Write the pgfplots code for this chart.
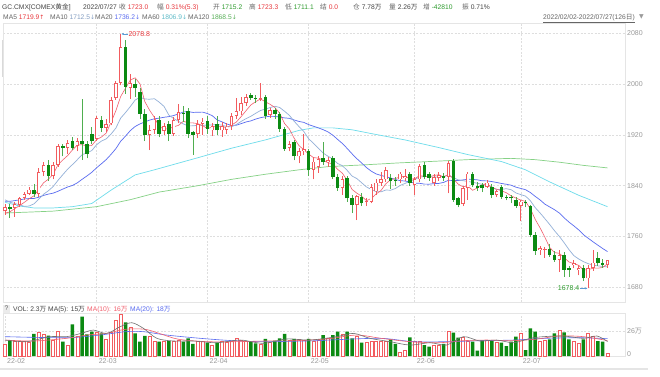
\documentclass[border=0pt]{standalone}
\usepackage{pgfplots}
\pgfplotsset{compat=1.18}
\usepackage{pgfplotstable}
\usetikzlibrary{arrows.meta}
\usepackage{fontspec}
\setmainfont{Liberation Sans}
\newfontfamily\cjk{Noto Sans CJK SC}
\newfontfamily\dv{DejaVu Sans}
\definecolor{cup}{HTML}{F25C5F}
\definecolor{cdn}{HTML}{0B8A12}
\definecolor{cdnw}{HTML}{4FAE4F}
\definecolor{gridc}{HTML}{DEDEDE}
\definecolor{tickc}{HTML}{9A9A9A}
\definecolor{txtc}{HTML}{444444}
\definecolor{labc}{HTML}{666666}
\definecolor{redt}{HTML}{E8383D}
\definecolor{greent}{HTML}{2E9B2E}
\definecolor{ma5c}{HTML}{F2606E}
\definecolor{ma10c}{HTML}{93B0D8}
\definecolor{ma20c}{HTML}{5A6CF0}
\definecolor{ma60c}{HTML}{6EDCEB}
\definecolor{ma120c}{HTML}{86D186}
\definecolor{vma5c}{HTML}{707070}
\definecolor{vma10c}{HTML}{F2606E}
\definecolor{vma20c}{HTML}{5A6CF0}
\definecolor{annoc}{HTML}{5B9BD5}
\newcommand\tf{\fontsize{7}{8.4}\selectfont}
\newcommand\hf{\fontsize{6.7}{8}\selectfont}

\pgfplotstableread{
i O H L C V
0 1800 1811 1794 1806 12.5
2 1805 1814 1791 1811 14.9
3 1810 1823 1807 1821 14.9
4 1821 1830 1818 1827 14.9
5 1827 1838 1825 1834 13.8
7 1827 1868 1822 1862 24.2
8 1862 1878 1855 1873 22.9
10 1855 1878 1850 1873 16.6
11 1873 1906 1870 1902 26.0
13 1900 1912 1890 1907 11.4
15 1902 1915 1894 1910 20.1
19 1914 1950 1910 1946 24.2
21 1931 1945 1925 1937 17.4
22 1938 1980 1935 1975 24.6
23 1978 2005 1975 2001 37.4
24 2002 2078.8 1998 2058 43.4
26 1994 2016 1977 2001 29.8
30 1920 1935 1896 1928 20.1
31 1928 1950 1922 1944 15.6
33 1926 1938 1920 1934 14.9
35 1922 1948 1918 1943 15.6
36 1943 1968 1938 1956 16.6
40 1921 1943 1915 1937 14.9
41 1937 1947 1920 1941 14.9
43 1927 1938 1918 1934 11.4
45 1927 1940 1917 1934 14.9
46 1928 1938 1922 1933 13.8
47 1934 1955 1928 1950 14.9
48 1950 1978 1945 1957 18.4
49 1957 1980 1952 1970 16.6
50 1970 1985 1966 1980 14.9
53 1976 2002 1973 1978 12.5
55 1951 1963 1947 1959 13.8
59 1899 1910 1894 1906 16.6
61 1886 1900 1875 1895 17.4
62 1895 1921 1888 1898 16.6
64 1865 1885 1850 1878 15.6
65 1869 1886 1860 1882 16.6
67 1877 1885 1870 1880 18.4
70 1836 1856 1826 1851 22.9
73 1810 1826 1786 1824 20.1
75 1814 1820 1808 1816 13.8
76 1815 1842 1812 1838 15.6
77 1831 1850 1826 1845 14.9
78 1844 1862 1840 1851 14.9
79 1850 1870 1846 1865 14.9
82 1850 1862 1845 1859 3.4
83 1852 1867 1848 1855 6.2
85 1841 1854 1826 1850 15.6
86 1850 1874 1846 1871 14.9
89 1844 1858 1840 1853 11.4
90 1852 1861 1848 1857 11.4
92 1854 1879 1828 1876 26.0
95 1811 1840 1808 1836 19.0
96 1836 1862 1818 1859 15.6
100 1838 1849 1836 1845 16.6
102 1825 1834 1822 1831 14.2
107 1808 1818 1784 1815 23.5
111 1739 1745 1731 1742 14.9
112 1739 1744 1727 1741 16.6
115 1723 1739 1705 1731 27.0
118 1715 1723 1710 1718 14.9
119 1707 1715 1699 1710 13.2
121 1694 1716 1678.4 1710 23.5
122 1710 1739 1706 1719 20.1
125 1715.2 1723.3 1711.1 1723.0 2.3
}\upT

\pgfplotstableread{
i O H L C V
1 1806 1811 1789 1804 16.6
6 1834 1842 1822 1827 22.9
9 1873 1880 1848 1855 21.1
12 1902 1905 1886 1900 14.9
14 1911 1917 1896 1900 33.0
16 1911 1976 1881 1906 40.9
17 1906 1910 1883 1890 22.6
18 1922 1932 1905 1910 25.3
20 1944 1950 1925 1931 23.5
25 2059 2070 1985 1996 35.0
27 2000 2008 1980 1993 23.5
28 1988 1993 1945 1953 14.9
29 1953 1960 1910 1919 20.8
32 1944 1950 1916 1921 14.9
34 1937 1942 1910 1921 15.6
37 1955 1966 1940 1953 14.9
38 1957 1962 1915 1922 18.4
39 1924 1926 1889 1920 12.5
42 1942 1950 1922 1929 13.8
44 1937 1950 1920 1927 13.8
51 1982 1986 1975 1978 14.9
52 1978 1983 1970 1976 13.2
54 1980 1983 1945 1949 17.7
56 1959 1962 1945 1953 15.9
57 1953 1956 1925 1930 18.4
58 1930 1932 1895 1898 22.9
60 1908 1912 1880 1886 17.7
63 1895 1898 1855 1864 17.7
66 1884 1909 1872 1877 21.8
68 1883 1886 1850 1854 21.8
69 1854 1858 1832 1836 25.3
71 1852 1855 1815 1820 25.3
72 1820 1826 1797 1810 18.4
74 1823 1828 1808 1812 13.8
80 1852 1858 1835 1848 17.4
81 1849 1853 1840 1847 12.5
84 1859 1862 1840 1844 19.4
87 1872 1877 1850 1854 11.4
88 1859 1862 1848 1852 9.7
91 1855 1860 1848 1852 12.5
93 1879 1882 1815 1818 24.2
94 1820 1822 1806 1810 19.0
97 1859 1862 1838 1841 14.9
98 1840 1846 1832 1836 5.5
99 1841 1845 1830 1836 16.6
101 1838 1842 1820 1825 15.6
103 1838 1841 1819 1823 13.8
104 1823 1826 1817 1821 10.4
105 1822 1825 1812 1820 14.9
106 1818 1822 1805 1808 20.1
108 1815 1818 1806 1812 6.2
109 1808 1810 1760 1763 28.8
110 1763 1767 1731 1737 25.3
113 1741 1749 1728 1731 17.4
114 1731 1737 1720 1723 23.5
116 1731 1735 1697 1708 24.6
117 1710 1713 1697 1707 17.4
120 1710 1715 1690 1694 17.4
123 1726 1735 1714 1718 15.6
124 1719 1724 1711 1716 14.9
}\dnT

\pgfplotstableread{
i m5 m10 m20
0 1796.6 1817.8 1815.7
1 1798.8 1814.0 1815.4
2 1803.8 1812.0 1816.5
3 1808.6 1810.0 1817.7
4 1813.8 1807.5 1819.1
5 1819.4 1808.0 1819.8
6 1824.0 1811.4 1819.9
7 1834.2 1819.0 1821.9
8 1844.6 1826.6 1824.7
9 1850.2 1832.0 1826.8
10 1858.0 1838.7 1828.3
11 1873.0 1848.5 1831.3
12 1880.6 1857.4 1834.7
13 1887.4 1866.0 1838.0
14 1896.4 1873.3 1840.4
15 1903.8 1880.9 1844.5
16 1904.6 1888.8 1850.1
17 1902.6 1891.6 1855.3
18 1903.2 1895.3 1861.0
19 1912.4 1904.4 1868.2
20 1916.6 1910.2 1874.5
21 1922.8 1913.7 1881.1
22 1939.8 1921.2 1889.3
23 1958.0 1930.6 1898.3
24 1980.4 1946.4 1909.9
25 1993.4 1955.0 1918.0
26 2006.2 1964.5 1926.7
27 2009.8 1974.8 1933.2
28 2000.2 1979.1 1937.2
29 1972.4 1976.4 1940.4
30 1958.8 1976.1 1943.2
31 1947.4 1976.8 1945.3
32 1933.0 1971.4 1946.3
33 1929.2 1964.7 1947.7
34 1929.6 1951.0 1948.7
35 1932.6 1945.7 1950.4
36 1935.0 1941.2 1952.9
37 1941.4 1937.2 1956.0
38 1939.0 1934.1 1956.6
39 1938.8 1934.2 1955.3
40 1937.6 1935.1 1955.6
41 1934.6 1934.8 1955.8
42 1929.8 1935.6 1953.5
43 1932.2 1935.6 1950.2
44 1933.6 1936.2 1943.6
45 1933.0 1935.3 1940.5
46 1931.4 1933.0 1937.1
47 1935.6 1932.7 1935.0
48 1940.2 1936.2 1935.2
49 1948.8 1941.2 1937.7
50 1958.0 1945.5 1940.3
51 1967.0 1949.2 1942.0
52 1972.2 1953.9 1944.8
53 1976.4 1958.3 1947.0
54 1972.2 1960.5 1948.4
55 1968.0 1963.0 1949.2
56 1963.0 1965.0 1949.0
57 1953.8 1963.0 1947.9
58 1937.8 1957.1 1946.7
59 1929.2 1950.7 1946.0
60 1914.6 1941.3 1943.4
61 1903.0 1933.0 1941.1
62 1896.6 1925.2 1939.6
63 1889.8 1913.8 1936.1
64 1884.2 1906.7 1933.6
65 1883.4 1899.0 1931.0
66 1879.8 1891.4 1928.2
67 1876.2 1886.4 1924.7
68 1874.2 1882.0 1919.6
69 1865.8 1875.0 1912.9
70 1859.6 1871.5 1906.4
71 1848.2 1864.0 1898.5
72 1834.2 1855.2 1890.2
73 1828.2 1851.2 1882.5
74 1823.4 1844.6 1875.7
75 1816.4 1838.0 1868.5
76 1820.0 1834.1 1862.8
77 1827.0 1830.6 1858.5
78 1832.4 1830.3 1856.2
79 1843.0 1833.2 1854.1
80 1849.4 1832.9 1852.2
81 1851.2 1835.6 1849.8
82 1854.0 1840.5 1847.9
83 1854.8 1843.6 1847.4
84 1850.6 1846.8 1845.7
85 1851.0 1850.2 1844.1
86 1855.8 1853.5 1843.8
87 1854.8 1854.4 1842.5
88 1854.2 1854.5 1842.4
89 1856.0 1853.3 1843.3
90 1857.4 1854.2 1843.6
91 1853.6 1854.7 1845.2
92 1858.0 1856.4 1848.5
93 1851.2 1852.7 1848.2
94 1842.6 1849.3 1848.1
95 1838.4 1847.9 1849.1
96 1839.8 1846.7 1850.1
97 1832.8 1845.4 1849.9
98 1836.4 1843.8 1849.2
99 1841.6 1842.1 1847.7
100 1843.4 1840.9 1847.6
101 1836.6 1838.2 1846.5
102 1834.6 1833.7 1845.1
103 1832.0 1834.2 1843.5
104 1829.0 1835.3 1842.3
105 1824.0 1833.7 1840.8
106 1820.6 1828.6 1837.7
107 1817.4 1826.0 1835.7
108 1815.2 1823.6 1833.7
109 1803.6 1816.3 1829.2
110 1787.0 1805.5 1823.2
111 1773.8 1797.2 1817.7
112 1759.0 1788.2 1811.0
113 1742.8 1779.0 1806.6
114 1734.8 1769.2 1802.3
115 1733.6 1760.3 1797.0
116 1726.8 1750.3 1789.5
117 1720.0 1739.5 1782.8
118 1717.4 1730.1 1776.9
119 1714.8 1724.8 1770.6
120 1707.4 1720.5 1763.0
121 1707.8 1717.3 1757.3
122 1710.2 1715.1 1751.7
123 1710.2 1713.8 1746.4
124 1711.4 1713.1 1741.2
125 1717.2 1712.3 1736.3
}\maT

\pgfplotstableread{
i v
0 1814
3 1808
6 1805
10 1805
14 1807
18 1812
22 1833
27 1857
31 1865
40 1884
47 1899
54 1912
61 1927
64 1931
68 1931
72 1928
76 1922
83 1912
90 1900
96 1889
103 1878
108 1865
113 1846
119 1825
125 1807
}\maSixty

\pgfplotstableread{
i v
0 1797
10 1800
19 1807
26 1818
32 1830
40 1840
47 1850
54 1858
61 1865
67 1870
75 1873
82 1876
88 1878
96 1881
105 1883
110 1881
115 1877
120 1872
125 1868
}\maOneTwenty

\pgfplotstableread{
i v
0 16.6
4.5 14.9
9.3 20.1
12.8 20.1
16.3 24.2
18.3 27.0
21.1 23.5
23.9 30.5
26.3 34.6
28.7 28.8
31.5 18.4
34.9 15.6
39 15.6
43.9 13.8
48.8 16.6
53.6 13.2
58.4 17.7
63.3 16.6
68.8 20.1
72.3 23.5
75.7 18.4
79.9 14.9
84 11.4
88.2 13.8
91.6 11.4
95.1 20.1
98.5 15.6
102 16.6
105.5 13.8
109 18.4
111.7 20.1
115.8 20.8
120 18.4
122.8 20.8
125 15
}\vmaA

\pgfplotstableread{
i v
0 16.6
6 15.6
12.8 18.4
17 21.8
21 23.5
25 27.8
29 27.8
32 23.5
36 17.4
42 14.9
48 14.9
54 15.6
60 15.9
66 17.4
68 18.4
73 21.8
78 18.4
84 14.9
90 13.8
95 15.9
100 16.6
105 15.9
110 17.4
115 20.8
120 20.1
125 16
}\vmaB

\pgfplotstableread{
i v
0 20.1
12.8 19.0
19.7 21.8
25 25.3
28.7 25.3
33.5 21.8
40.5 18.4
47.4 15.9
54.3 14.9
64.7 15.9
67.4 16.6
77.8 18.4
84.7 14.9
91.6 14.9
98.5 15.9
105.5 16.6
112.4 18.4
119.3 19.0
125 18
}\vmaC

\begin{document}
\begin{tikzpicture}[x=1pt,y=1pt,
  hdr/.style={anchor=base west, inner sep=0pt, font=\hf, text=txtc}]
\fill[white] (0,0) rectangle (660,376);

% ---------- price panel ----------
\begin{axis}[at={(3pt,74pt)}, anchor=south west, scale only axis,
  width=622pt, height=279pt,
  xmin=-0.415, xmax=128.63, ymin=1657, ymax=2096,
  clip=false,
  axis line style={draw=black!10},
  xtick={19,42,63,85,107}, xticklabels={},
  ytick={1680,1760,1840,1920,2000,2080},
  yticklabel pos=right,
  xmajorgrids, ymajorgrids,
  grid style={draw=gridc, dash pattern=on 2pt off 1.5pt, line width=0.5pt},
  major tick length=0pt,
  scaled y ticks=false,
  /pgf/number format/.cd, set thousands separator={}, assume math mode=true, /pgfplots/.cd,
  yticklabel style={font=\tf, text=tickc, inner sep=2pt},
]
% moving averages
\addplot[ma120c, line width=0.7pt] table[x=i,y=v]{\maOneTwenty};
\addplot[ma60c, line width=0.7pt] table[x=i,y=v]{\maSixty};
\addplot[ma20c, line width=0.7pt] table[x=i,y=m20]{\maT};
\addplot[ma10c, line width=0.7pt] table[x=i,y=m10]{\maT};
\addplot[ma5c, line width=0.6pt] table[x=i,y=m5]{\maT};
% down candles
\addplot[draw=cdnw, line width=0.8pt, quiver={u=0,v={\thisrow{H}-\thisrow{L}}}] table[x=i,y=L]{\dnT};
\addplot[draw=cdn, line width=3.5pt, quiver={u=0,v={max(\thisrow{O}-\thisrow{C},1)}}] table[x=i,y=C]{\dnT};
% up candles
\addplot[draw=cup, line width=0.8pt, quiver={u=0,v={\thisrow{H}-\thisrow{L}}}] table[x=i,y=L]{\upT};
\addplot[draw=cup, line width=3.5pt, quiver={u=0,v={max(\thisrow{C}-\thisrow{O},1)}}] table[x=i,y=O]{\upT};
\addplot[draw=white, line width=1.9pt, quiver={u=0,v={max(\thisrow{C}-\thisrow{O}-2.6,0)}}] table[x=i,y expr={\thisrow{O}+1.3}]{\upT};
% annotations
\draw[annoc, line width=0.5pt, -{Latex[length=2.2pt,width=2.2pt]}] (axis cs:25.5,2078.8) -- (axis cs:24.15,2078.8);
\node[anchor=west, inner sep=0pt, font=\tf, text=redt] at (axis cs:25.6,2078.8) {2078.8};
\draw[annoc, line width=0.5pt, -{Latex[length=2.2pt,width=2.2pt]}] (axis cs:119.3,1678.4) -- (axis cs:120.85,1678.4);
\node[anchor=east, inner sep=0pt, font=\tf, text=greent] at (axis cs:119.2,1678.4) {1678.4};
\end{axis}

% ---------- volume panel ----------
\begin{axis}[at={(3pt,20pt)}, anchor=south west, scale only axis,
  width=622pt, height=43pt,
  xmin=-0.415, xmax=128.63, ymin=0, ymax=44.7,
  clip=false,
  axis line style={draw=black!10},
  xtick={0,19,42,63,85,107},
  xticklabels={22-02,22-03,22-04,22-05,22-06,22-07},
  xticklabel style={anchor=north west, font=\tf, text=tickc, inner sep=2pt},
  ytick={0,26},
  yticklabels={\raisebox{4pt}{0},{26{\cjk 万}}},
  yticklabel pos=right,
  yticklabel style={font=\tf, text=tickc, inner sep=2pt},
  xmajorgrids, ymajorgrids,
  grid style={draw=gridc, dash pattern=on 2pt off 1.5pt, line width=0.5pt},
  major tick length=0pt,
]
\addplot[ybar, bar width=3.0pt, bar shift=0pt, draw=cup, fill=white, line width=0.6pt] table[x=i,y=V]{\upT};
\addplot[ybar, bar width=3.5pt, bar shift=0pt, draw=none, fill=cdn] table[x=i,y=V]{\dnT};
\addplot[vma20c, line width=0.6pt, smooth] table[x=i,y=v]{\vmaC};
\addplot[vma10c, line width=0.6pt, smooth] table[x=i,y=v]{\vmaB};
\addplot[vma5c, line width=0.6pt, smooth] table[x=i,y=v]{\vmaA};
\end{axis}

% ---------- header texts ----------
\node[hdr] at (2,366.5) {GC.CMX[COMEX{\cjk 黄金}]};
\node[hdr] at (83,366.5) {2022/07/27};
\node[hdr, text=labc] at (119,366.5) {{\cjk 收} \textcolor{redt}{1723.0}};
\node[hdr, text=labc] at (157,366.5) {{\cjk 幅} \textcolor{redt}{0.31\%(5.3)}};
\node[hdr, text=labc] at (213,366.5) {{\cjk 开} \textcolor{greent}{1715.2}};
\node[hdr, text=labc] at (249,366.5) {{\cjk 高} \textcolor{redt}{1723.3}};
\node[hdr, text=labc] at (285,366.5) {{\cjk 低} \textcolor{greent}{1711.1}};
\node[hdr, text=labc] at (320,366.5) {{\cjk 结} \textcolor{redt}{0.0}};
\node[hdr, text=labc] at (353,366.5) {{\cjk 仓} \textcolor{txtc}{7.78{\cjk 万}}};
\node[hdr, text=labc] at (389,366.5) {{\cjk 量} \textcolor{txtc}{2.26{\cjk 万}}};
\node[hdr, text=labc] at (423,366.5) {{\cjk 增} \textcolor{greent}{-42810}};
\node[hdr, text=labc] at (462,366.5) {{\cjk 振} \textcolor{txtc}{0.71\%}};

\node[hdr, text=labc] at (3,356.5) {MA5 \textcolor{redt}{1719.9{\dv\fontsize{6}{7}\selectfont ↑}}};
\node[hdr, text=labc] at (50,356.5) {MA10 \textcolor{ma10c!90!black}{1712.5{\dv\fontsize{6}{7}\selectfont ↓}}};
\node[hdr, text=labc] at (95,356.5) {MA20 \textcolor{ma20c}{1736.2{\dv\fontsize{6}{7}\selectfont ↓}}};
\node[hdr, text=labc] at (142,356.5) {MA60 \textcolor{ma60c!85!black}{1806.9{\dv\fontsize{6}{7}\selectfont ↓}}};
\node[hdr, text=labc] at (188,356.5) {MA120 \textcolor{greent!80}{1868.5{\dv\fontsize{6}{7}\selectfont ↓}}};

\node[hdr, text=labc] at (543,357) {\underline{2022/02/02-2022/07/27(126{\cjk 日})}};
\node[hdr, text=tickc] at (639,357.5) {{\dv\fontsize{6}{7}\selectfont ▼}};

% left scroll marker
\fill[black!15] (1.5,299) rectangle (2.8,336);

% volume header
\node[fill=black!8, text=labc, font=\hf, inner sep=0pt, minimum width=7pt, minimum height=8pt] at (6.5,67.5) {?};
\node[hdr] at (13,64.5) {VOL: 2.3{\cjk 万}};
\node[hdr] at (48,64.5) {MA(5): 15{\cjk 万}};
\node[hdr, text=vma10c] at (87,64.5) {MA(10): 16{\cjk 万}};
\node[hdr, text=vma20c] at (130,64.5) {MA(20): 18{\cjk 万}};

% bottom separator
\draw[black!10, line width=1.2pt] (0,7) -- (648,7);
\pgfresetboundingbox
\useasboundingbox (0,0) rectangle (660,376);
\end{tikzpicture}
\end{document}
